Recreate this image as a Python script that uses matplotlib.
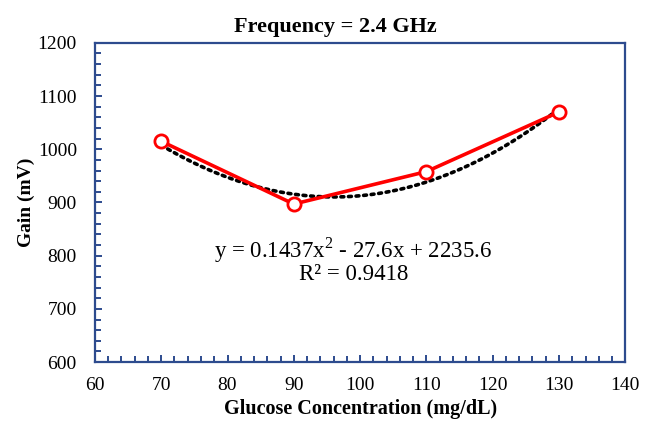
import numpy as np
from matplotlib import pyplot as plt
from matplotlib.ticker import MultipleLocator

plt.rcParams['font.family'] = ['Liberation Serif', 'DejaVu Serif']
plt.rcParams['mathtext.fontset'] = 'custom'
plt.rcParams['mathtext.rm'] = 'Liberation Serif'

glucose = [70, 90, 110, 130]
gain = [1015, 897, 958, 1070]
# trendline coefficients shown on the chart
coef = [0.1437, -27.6, 2235.6]

fig = plt.figure(figsize=(6.5, 4.24), dpi=100)
ax = fig.add_axes([0.146, 0.146, 0.816, 0.753])

xs = np.linspace(glucose[0], glucose[-1], 200)
ax.plot(xs, np.polyval(coef, xs), color='black', linestyle=(0, (0.8, 1.3)),
        linewidth=2.6, dash_capstyle='round', zorder=2)
ax.plot(glucose, gain, color='#ff0000', linewidth=2.6, marker='o',
        markersize=9.5, markerfacecolor='white', markeredgecolor='#ff0000',
        markeredgewidth=2, zorder=3)

ax.set_xlim(60, 140)
ax.set_ylim(600, 1200)
ax.xaxis.set_major_locator(MultipleLocator(10))
ax.xaxis.set_minor_locator(MultipleLocator(2))
ax.yaxis.set_major_locator(MultipleLocator(100))
ax.yaxis.set_minor_locator(MultipleLocator(20))

navy = '#2d4b8e'
for s in ax.spines.values():
    s.set_color(navy)
    s.set_linewidth(1.6)
ax.tick_params(which='both', direction='in', color=navy, width=1.4,
               labelsize=14, labelcolor='black')
ax.tick_params(which='major', length=5)
ax.tick_params(which='minor', length=4)
ax.tick_params(axis='x', which='both', top=False, pad=11)
ax.tick_params(axis='y', which='both', right=False, pad=13)

ax.set_title('Frequency = 2.4 GHz', fontsize=16, fontweight='bold', pad=8, x=0.453)
ax.set_xlabel('Glucose Concentration (mg/dL)', fontsize=14.5, fontweight='bold', labelpad=3)
ax.set_ylabel('Gain (mV)', fontsize=14, fontweight='bold', labelpad=2)

ax.text(99, 811, r'y = 0.1437x$^\mathregular{2}$ - 27.6x + 2235.6',
        ha='center', va='center', fontsize=16.5)
ax.text(99, 764, 'R² = 0.9418', ha='center', va='center', fontsize=16.5)

fig.savefig('out.png', dpi=100)
